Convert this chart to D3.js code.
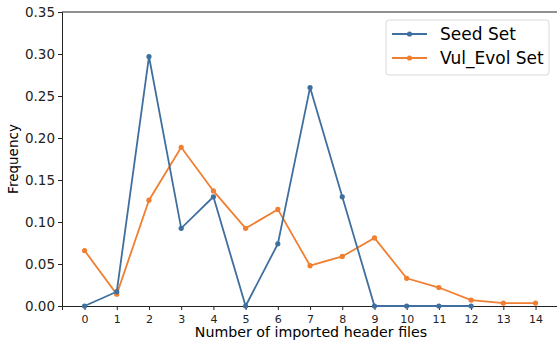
<!DOCTYPE html>
<html><head><meta charset="utf-8">
<script src="https://cdn.jsdelivr.net/npm/d3@7"></script>
<style>body{margin:0;background:#fff}svg{display:block}text{font-family:"DejaVu Sans",sans-serif}</style>
</head><body><svg id="c" width="557" height="343"></svg>
<script>
const seedX = [0,1,2,3,4,5,6,7,8,9,10,11,12];
const seedY = [0,0.017,0.297,0.0925,0.13,0,0.074,0.26,0.13,0,0,0,0];
const vulX = [0,1,2,3,4,5,6,7,8,9,10,11,12,13,14];
const vulY = [0.066,0.014,0.126,0.189,0.137,0.0925,0.115,0.048,0.059,0.081,0.033,0.022,0.007,0.0035,0.0035];
const xTicks = [0,1,2,3,4,5,6,7,8,9,10,11,12,13,14];
const yTicks = [0,0.05,0.10,0.15,0.20,0.25,0.30,0.35];
const seriesNames = ["Seed Set","Vul_Evol Set"];
const colors = ["#3f6f9f","#f07f31"];

const svg = d3.select("#c");
const L=62,T=12,B=306;
const x = d3.scaleLinear().domain([-0.7,14.7]).range([L, L + (536-85)/14*15.4]);
const y = d3.scaleLinear().domain([0,0.35]).range([B,T]);

const gx = svg.append("g").attr("transform",`translate(0,${B})`)
  .call(d3.axisBottom(x).tickValues(xTicks).tickFormat(d3.format("d")).tickSizeOuter(0).tickSize(4));
gx.selectAll("text").attr("font-size",11).attr("fill","#222").attr("dy","0.9em");
const gy = svg.append("g").attr("transform",`translate(${L},0)`)
  .call(d3.axisLeft(y).tickValues(yTicks).tickFormat(d3.format(".2f")).tickSizeOuter(0).tickSize(4));
gy.selectAll("text").attr("font-size",13.5).attr("fill","#222");
svg.selectAll(".domain").attr("stroke","#222");
svg.selectAll(".tick line").attr("stroke","#222");
svg.append("line").attr("x1",L).attr("x2",557).attr("y1",T).attr("y2",T).attr("stroke","#222");

svg.append("text").attr("x",311).attr("y",337).attr("text-anchor","middle").attr("font-size",14.2).text("Number of imported header files");
svg.append("text").attr("transform","translate(18,159) rotate(-90)").attr("text-anchor","middle").attr("font-size",13.5).text("Frequency");

const line = d3.line().x(d=>x(d[0])).y(d=>y(d[1]));
const data = [d3.zip(seedX,seedY), d3.zip(vulX,vulY)];
[1,0].forEach(i=>{
  svg.append("path").datum(data[i]).attr("d",line).attr("fill","none").attr("stroke",colors[i]).attr("stroke-width",1.8);
  svg.append("g").selectAll("circle").data(data[i]).join("circle")
    .attr("cx",d=>x(d[0])).attr("cy",d=>y(d[1])).attr("r",2.6).attr("fill",colors[i]);
});

const lg = svg.append("g");
lg.append("rect").attr("x",386).attr("y",20).attr("width",163).attr("height",55).attr("rx",3)
  .attr("fill","#fff").attr("fill-opacity",0.8).attr("stroke","#d9d9d9");
seriesNames.forEach((n,i)=>{
  const yy = 34 + i*24;
  lg.append("line").attr("x1",392).attr("x2",427).attr("y1",yy).attr("y2",yy).attr("stroke",colors[i]).attr("stroke-width",1.8);
  lg.append("circle").attr("cx",409.5).attr("cy",yy).attr("r",2.6).attr("fill",colors[i]);
  lg.append("text").attr("x",440).attr("y",yy).attr("dy","0.36em").attr("font-size",17).text(n);
});
</script></body></html>
